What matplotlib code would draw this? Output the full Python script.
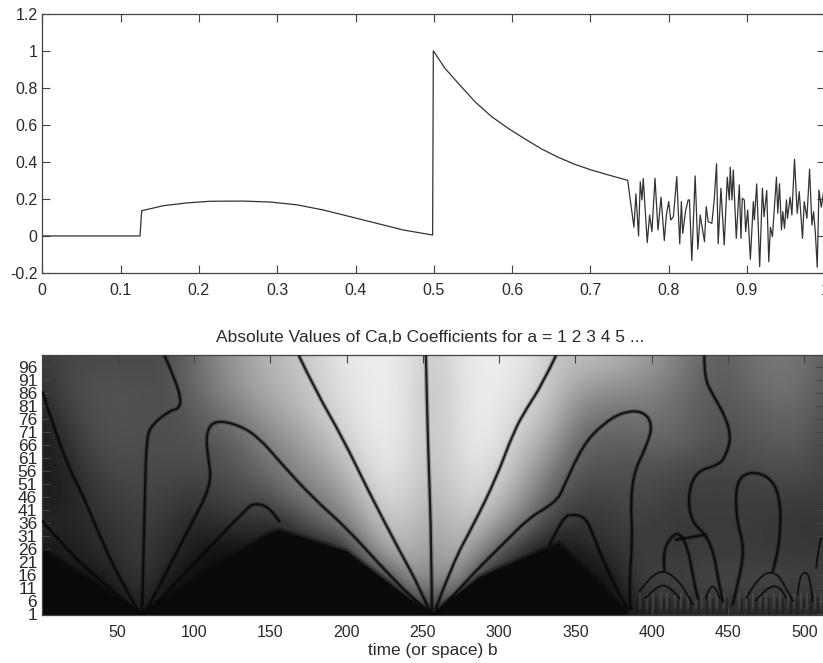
import numpy as np
import matplotlib
matplotlib.use("Agg")
import matplotlib.pyplot as plt
from matplotlib.patches import PathPatch
from matplotlib.path import Path

plt.rcParams["font.family"] = ["Liberation Sans", "DejaVu Sans"]

# top panel: signal
sig_t = [0, 0.1248, 0.1269, 0.1546, 0.1844, 0.2142, 0.2565, 0.2908, 0.3249, 0.3589, 0.393,
         0.4271, 0.461, 0.4985,
         0.4994, 0.5143, 0.5313, 0.5526, 0.574, 0.5952, 0.6165, 0.6378, 0.659, 0.6803,
         0.7017, 0.7229, 0.7476,
         0.7556, 0.7581, 0.7615, 0.7637, 0.7658, 0.7675, 0.7726, 0.7756,
         0.7786, 0.7825, 0.7863, 0.7902, 0.7944, 0.797, 0.8, 0.8026, 0.806,
         0.8103, 0.8141, 0.8162, 0.8179, 0.8214, 0.8248, 0.8265, 0.8295, 0.8338,
         0.8372, 0.8402, 0.8457, 0.8479, 0.8504, 0.8551, 0.8581, 0.8611, 0.8632,
         0.8667, 0.8709, 0.8748, 0.8774, 0.8786, 0.8808, 0.8825, 0.8863, 0.8902,
         0.8923, 0.894, 0.8966, 0.8983, 0.9009, 0.9043, 0.9081, 0.9094, 0.9124,
         0.9162, 0.9197, 0.9218, 0.9252, 0.9278, 0.9299, 0.9325, 0.9376, 0.9393,
         0.9415, 0.944, 0.9457, 0.9479, 0.9504, 0.9517, 0.9551, 0.9573, 0.9607,
         0.9641, 0.9667, 0.9709, 0.9731, 0.9765, 0.9799, 0.9829, 0.985, 0.9872,
         0.9897, 0.9919, 0.9949, 0.9991]
sig_v = [0, 0, 0.136, 0.163, 0.178, 0.187, 0.188, 0.183, 0.168, 0.14, 0.104,
         0.068, 0.032, 0.005,
         0.999, 0.904, 0.823, 0.724, 0.643, 0.58, 0.523, 0.469, 0.424, 0.386,
         0.355, 0.329, 0.3,
         0.047, 0.227, 0, 0.292, 0.194, 0.31, -0.036, 0.113,
         0.023, 0.311, 0.032, 0.209, -0.025, 0.113, 0.185, 0.086, 0.104,
         0.32, -0.043, 0.185, 0.014, 0.131, 0.194, 0.194, -0.133, 0.324,
         -0.072, 0.113, -0.031, 0.158, 0.077, 0.068, 0.194, 0.389, -0.043,
         0.257, -0.049, 0.317, 0.194, 0.371, 0.194, 0.356, -0.013, 0.275,
         -0.013, 0.203, 0.194, 0.023, 0.14, -0.126, 0.185, 0.086, 0.281,
         -0.166, 0.257, 0.104, 0.245, -0.139, 0.047, -0.004, 0.317, 0.122,
         0.281, 0.032, 0.131, 0.041, 0.194, 0.095, 0.209, 0.113, 0.414,
         0.122, 0.239, -0.013, 0.185, 0.095, 0.36, 0.059, 0.131, 0.023,
         -0.169, 0.248, 0.155, 0.275]

# bottom panel: grey level read every 16 in b (1..513), one list per scale a
grey_a1 = [10, 10, 10, 10, 30, 10, 10, 10, 10, 10, 10, 10, 10, 10, 10, 15, 50,
           15, 10, 10, 10, 10, 10, 10, 22, 35, 35, 35, 35, 35, 35, 35, 35]
grey_a12 = [10, 10, 12, 28, 55, 25, 10, 10, 10, 10, 10, 10, 10, 10, 35, 130, 130,
            130, 25, 10, 10, 10, 10, 12, 45, 70, 65, 72, 75, 72, 70, 68, 65]
grey_a23 = [15, 30, 38, 48, 58, 45, 28, 12, 10, 10, 10, 10, 12, 90, 155, 175, 150,
            175, 120, 60, 25, 15, 25, 40, 55, 62, 55, 60, 60, 60, 58, 58, 55]
grey_a34 = [42, 35, 42, 52, 60, 52, 38, 40, 45, 45, 40, 80, 105, 145, 190, 190, 165,
            190, 175, 130, 90, 50, 50, 55, 62, 60, 55, 58, 58, 58, 55, 52, 52]
grey_a45 = [30, 32, 50, 62, 68, 65, 55, 60, 70, 70, 100, 120, 140, 180, 215, 205, 180,
            205, 210, 175, 130, 85, 65, 65, 72, 68, 62, 62, 62, 62, 62, 60, 60]
grey_a56 = [28, 35, 60, 72, 72, 72, 72, 75, 85, 105, 125, 145, 170, 205, 228, 215, 190,
            215, 225, 200, 160, 115, 85, 82, 80, 78, 72, 68, 68, 72, 75, 75, 68]
grey_a67 = [25, 48, 72, 80, 78, 78, 82, 85, 100, 125, 145, 170, 195, 222, 235, 220, 195,
            220, 235, 215, 185, 150, 100, 95, 95, 100, 100, 85, 80, 85, 90, 90, 72]
grey_a78 = [35, 62, 78, 82, 80, 78, 85, 105, 125, 150, 170, 190, 212, 230, 238, 222, 195,
            222, 238, 225, 205, 175, 130, 115, 115, 115, 105, 90, 85, 90, 100, 100, 80]
grey_a89 = [50, 72, 80, 82, 80, 78, 100, 125, 150, 170, 185, 200, 220, 232, 238, 222, 195,
            222, 238, 232, 218, 190, 165, 150, 145, 135, 115, 95, 90, 105, 115, 110, 90]
grey_a100 = [60, 70, 72, 72, 72, 75, 100, 130, 155, 175, 190, 205, 225, 235, 238, 225, 200,
             225, 238, 235, 225, 195, 190, 185, 170, 150, 130, 105, 95, 110, 120, 115, 95]

# near-black region at small scales
black_b = [0.5, 0.5, 65, 150, 156, 200, 243, 256, 287, 339, 383, 383, 0.5]
black_a = [0.5, 26, 1, 32, 33, 25, 6, 1, 15, 28, 2, 0.5, 0.5]

# zero lines of the coefficients, as (b, a) pairs
ridges = [
    ([1, 14, 27, 38, 51, 65], [86, 62, 47, 31.4, 14.7, 0.6]),
    ([1, 16, 38, 65], [36.5, 26, 14, 0.6]),
    ([66, 67, 68, 69, 73, 84, 90.5, 91.5, 87, 81], [0.6, 24, 49, 69, 74, 79, 80, 84, 92, 100]),
    ([67.5, 82, 97, 112, 109, 108, 114, 130, 143, 156, 178, 200, 221.5, 243, 256],
     [0.6, 17, 34, 51, 62, 71, 75.5, 73.5, 68.5, 59.6, 45.5, 34, 20, 7, 0.6]),
    ([68.6, 134, 141, 150, 156], [0.6, 41.7, 43.6, 41.7, 36.5]),
    ([169, 180, 197.5, 214.5, 234, 248, 255.5], [100, 86.5, 68.6, 48, 26, 11, 0.6]),
    ([252, 253, 254, 255.5, 256], [100, 75, 56, 30, 0.6]),
    ([337, 328, 318, 309.5, 298, 283, 270, 258.5], [100, 89, 80, 71, 53, 35, 21, 3]),
    ([258.6, 278, 304.5, 320, 331, 339, 341.6, 355, 368, 381, 394, 400.6, 397, 388.6,
      386, 387.5, 385, 386],
     [0.6, 13.5, 29, 38, 41.7, 45.5, 49, 66, 74, 78.6, 79, 74, 66, 56, 44, 30, 12, 3]),
    ([333, 341.6, 348, 357, 363, 374, 384], [27.5, 38, 39.4, 38, 29, 13.5, 3]),
    ([434.4, 434.4, 439.9, 448.7, 451.9, 448.7, 444.3, 429, 423.6, 425.8, 435.4, 441,
      443.2, 446.5],
     [100, 91.7, 85.3, 76.3, 68.6, 62.2, 58.3, 55.8, 46.8, 36.5, 31.4, 23.7, 14.7, 5.8]),
    ([453, 457.4, 460.7, 455.2, 455.2, 464, 477, 483.6, 484.7, 481.4, 479.3],
     [4.5, 14.7, 26.3, 37.8, 51.9, 55.8, 53.8, 46.8, 34, 21.2, 17.3]),
    ([408.3, 407.2, 411.5, 418.1, 423.6, 426.8, 430],
     [17.9, 23.7, 30.1, 32.5, 26.3, 16, 7]),
    ([416, 426, 435.4], [29.5, 30.5, 31.4]),
]
fine_ridges = [
    ([391.9, 398.4, 407.2, 415.9, 422.5, 426.8], [9.6, 14.7, 17.9, 14.7, 9.6, 4.5]),
    ([396, 403, 411, 418], [7, 11.5, 12.2, 7]),
    ([435.4, 437.8, 442, 444.3], [7, 11.5, 11.5, 7]),
    ([461.8, 470.5, 481.4, 488, 492.4], [7, 16, 17.3, 10.9, 5.8]),
    ([468, 475, 484, 488], [6, 11, 12, 7]),
    ([495.6, 496.7, 502.2, 504.4, 505.5], [8.3, 16, 17.3, 11, 5.8]),
    ([507.7, 508.7, 510.9], [18.6, 25, 30.1]),
]
dark_streak_b = [390, 394, 399, 403, 408, 412, 417, 421, 426, 431, 436, 440, 445, 449, 459,
                 464, 468, 473, 477, 482, 486, 491, 495, 500, 504, 509]
light_streak_b = [392, 397, 401, 406, 410, 415, 419, 424, 429, 433, 438, 443, 447, 457,
                  462, 466, 471, 475, 480, 484, 489, 493, 498, 502, 507, 511]

x_ticks = [0, 0.1, 0.2, 0.3, 0.4, 0.5, 0.6, 0.7, 0.8, 0.9, 1]
x_labels = ["0", "0.1", "0.2", "0.3", "0.4", "0.5", "0.6", "0.7", "0.8", "0.9", "1"]
y_ticks = [-0.2, 0, 0.2, 0.4, 0.6, 0.8, 1, 1.2]
y_labels = ["-0.2", "0", "0.2", "0.4", "0.6", "0.8", "1", "1.2"]
b_ticks = [50, 100, 150, 200, 250, 300, 350, 400, 450, 500]
a_ticks = list(range(1, 100, 5))

W, H = 823, 663
INK = "#2a2a2a"


def ridge_patch(b, a, **kw):
    # quadratic bezier through midpoints, so the read-off knots give a smooth line
    pts = np.column_stack([b, a])
    verts = [pts[0]]
    codes = [Path.MOVETO]
    for i in range(1, len(pts) - 1):
        end = pts[-1] if i == len(pts) - 2 else (pts[i] + pts[i + 1]) / 2
        verts += [pts[i], end]
        codes += [Path.CURVE3, Path.CURVE3]
    return PathPatch(Path(verts, codes), fill=False, capstyle="round", **kw)


fig = plt.figure(figsize=(W / 100, H / 100), dpi=100)

ax = fig.add_axes([42.3 / W, (H - 273) / H, 783 / W, 259.5 / H])
ax.plot(sig_t, sig_v, color="#333333", lw=0.9)
ax.set_xlim(0, 1)
ax.set_ylim(-0.2, 1.2)
ax.set_xticks(x_ticks, x_labels)
ax.set_yticks(y_ticks, y_labels)
ax.tick_params(direction="in", top=True, right=True, length=5.5, width=0.8, color="#444444",
               labelsize=11.5, labelcolor=INK)
ax.tick_params(axis="x", pad=7)
ax.tick_params(axis="y", pad=3.5)

ax2 = fig.add_axes([42 / W, (H - 615) / H, 781.5 / W, 260 / H])
grey = np.array([grey_a1, grey_a12, grey_a23, grey_a34, grey_a45,
                 grey_a56, grey_a67, grey_a78, grey_a89, grey_a100])
ax2.imshow(grey, origin="lower", cmap="gray", vmin=0, vmax=255, aspect="auto",
           interpolation="bicubic", extent=(-7, 521, -4.5, 105.5))
for lw, alpha in ((5, 0.25), (2.5, 0.35)):
    ax2.plot(black_b, black_a, color="#0a0a0a", lw=lw, alpha=alpha, zorder=2)
ax2.fill(black_b, black_a, color="#0a0a0a", lw=0, zorder=2)
ax2.vlines(light_streak_b, 3, 9, color="#b0b0b0", lw=1.2, alpha=0.15, zorder=2.5)
ax2.vlines(dark_streak_b, 1, 7, color="#111111", lw=1.4, alpha=0.35, zorder=2.5)
for b, a in ridges:
    ax2.add_patch(ridge_patch(b, a, color="#080808", lw=3.4, alpha=0.25, zorder=3))
    ax2.add_patch(ridge_patch(b, a, color="#080808", lw=1.6, alpha=0.85, zorder=3))
for b, a in fine_ridges:
    ax2.add_patch(ridge_patch(b, a, color="#080808", lw=1.4, alpha=0.8, zorder=3))
ax2.set_xlim(0.5, 512.5)
ax2.set_ylim(0.5, 100.5)
ax2.set_xticks(b_ticks)
ax2.set_yticks(a_ticks)
ax2.tick_params(direction="in", top=True, right=True, length=5.5, width=0.8, color="#444444",
                labelsize=11.5, labelcolor=INK)
ax2.tick_params(axis="x", pad=7)
ax2.tick_params(axis="y", pad=3.5, labelsize=12.5)
ax2.set_title("Absolute Values of Ca,b Coefficients for a = 1 2 3 4 5 ...",
              fontsize=12.5, color=INK, pad=9, x=0.497)
ax2.set_xlabel("time (or space) b", fontsize=12.4, color=INK, labelpad=2)
ax2.set_ylabel("scales a", fontsize=12.4, color=INK)
ax2.yaxis.set_label_coords(-0.05, 0.49)

for a_ in (ax, ax2):
    for s in a_.spines.values():
        s.set_color("#444444")
        s.set_linewidth(0.9)

fig.savefig("out.png", dpi=100)
